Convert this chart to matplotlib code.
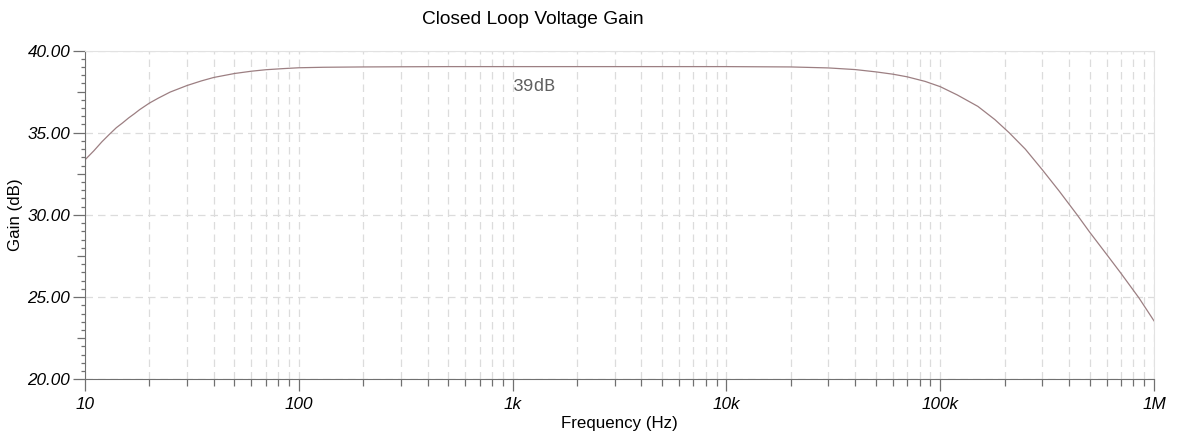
import matplotlib.pyplot as plt
from matplotlib.ticker import FixedLocator, LogLocator, MultipleLocator, NullFormatter

# values (frequency in Hz, gain in dB)
freq = [10, 11, 12, 13, 14, 15, 16, 17, 18, 20, 22, 25, 30, 35, 40, 50, 60, 70, 85,
        100, 130, 200, 300, 500, 1e3, 1e4, 2e4, 3e4, 4e4, 5e4, 6e4, 7e4, 8.5e4,
        1e5, 1.2e5, 1.5e5, 1.8e5, 2.1e5, 2.5e5, 3e5, 3.6e5, 4.37e5, 5e5, 6e5,
        7e5, 8.5e5, 1e6]
gain = [33.35, 33.9, 34.45, 34.9, 35.3, 35.6, 35.9, 36.15, 36.4, 36.8, 37.1,
        37.47, 37.87, 38.15, 38.36, 38.6, 38.74, 38.83, 38.9, 38.95, 38.98, 39.0,
        39.01, 39.02, 39.02, 39.02, 39.0, 38.94, 38.84, 38.7, 38.56, 38.4, 38.12,
        37.8, 37.3, 36.6, 35.8, 35.0, 34.0, 32.75, 31.45, 30.0, 28.95, 27.6,
        26.45, 24.95, 23.55]

xticks = [10, 100, 1e3, 1e4, 1e5, 1e6]
xlabels = ['10', '100', '1k', '10k', '100k', '1M']
yticks = [20, 25, 30, 35, 40]

plt.rcParams['font.family'] = ['Liberation Sans', 'DejaVu Sans']

fig = plt.figure(figsize=(11.84, 4.43), dpi=100)
ax = fig.add_axes([0.0718, 0.1438, 0.9029, 0.7422])

ax.plot(freq, gain, color='#9c7f82', lw=0.9)
ax.set_xscale('log')
ax.set_xlim(10, 1e6)
ax.set_ylim(20, 40)

ax.xaxis.set_major_locator(FixedLocator(xticks))
ax.set_xticks(xticks, xlabels, fontstyle='italic', fontsize=12.3)
ax.xaxis.set_minor_locator(LogLocator(base=10, subs=range(2, 10)))
ax.xaxis.set_minor_formatter(NullFormatter())
ax.set_yticks(yticks, ['%.2f' % v for v in yticks], fontstyle='italic', fontsize=12.3)
ax.yaxis.set_minor_locator(MultipleLocator(0.5))

ax.grid(which='major', axis='y', color='#dcdcdc', ls=(0, (6, 4)), lw=0.9)
ax.grid(which='both', axis='x', color='#dcdcdc', ls=(0, (6, 4)), lw=0.9)

for s in ['left', 'bottom']:
    ax.spines[s].set_color('#707070')
for s in ['top', 'right']:
    ax.spines[s].set_color('#e2e2e2')

ax.tick_params(which='major', length=8.6, width=0.9, color='#707070', pad=2)
ax.tick_params(axis='x', which='minor', length=5, width=0.9, color='#707070')
ax.tick_params(axis='y', which='minor', length=3, width=0.9, color='#707070')
ax.tick_params(axis='x', which='major', pad=4)

fig.canvas.draw()
for t in ax.yaxis.get_minor_ticks():
    v = t.get_loc()
    if abs(v % 5 - 2.5) < 1e-6:
        t.tick1line.set_markersize(5.8)

ax.text(1e3, 39.0 - 1.2, '39dB', family=['Liberation Mono', 'DejaVu Sans Mono'],
        fontsize=13, color='#606060', ha='left', va='center')

ax.set_xlabel('Frequency (Hz)', fontsize=12.2, labelpad=3)
ax.set_ylabel('Gain (dB)', fontsize=12.2, labelpad=3)
fig.text(0.45, 0.955, 'Closed Loop Voltage Gain', fontsize=13.8, ha='center', va='center')

fig.savefig('out.png', dpi=100)
